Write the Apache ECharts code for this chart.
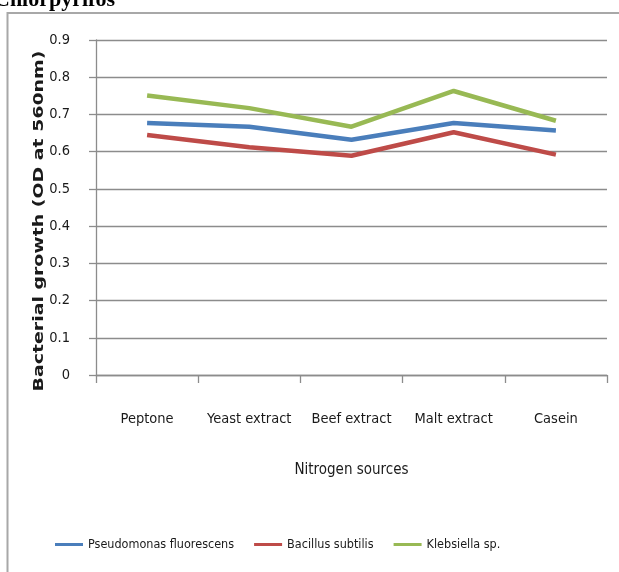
<!DOCTYPE html>
<html>
<head>
<meta charset="utf-8">
<title>Bacterial growth by nitrogen source</title>
<script src="https://cdn.jsdelivr.net/npm/echarts@6/dist/echarts.min.js"></script>
<style>
  html, body { margin: 0; padding: 0; background: #ffffff; }
  #chart { width: 619px; height: 572px; }
</style>
</head>
<body>
<div id="chart"></div>
<script>
// Nitrogen sources tested
const categories = ['Peptone', 'Yeast extract', 'Beef extract', 'Malt extract', 'Casein'];

// Bacterial growth, OD at 560 nm
const pseudomonas = [0.677, 0.667, 0.632, 0.677, 0.657];
const bacillus    = [0.645, 0.612, 0.589, 0.652, 0.592];
const klebsiella  = [0.751, 0.717, 0.667, 0.763, 0.683];

const seriesNames = ['Pseudomonas fluorescens', 'Bacillus subtilis', 'Klebsiella sp.'];
const seriesColors = ['#4a7ebb', '#be4b48', '#98b954'];

const narrow = '"DejaVu Sans Condensed", "Liberation Sans Narrow", "Liberation Sans", sans-serif';
const gridColor = '#8c8c8c';

const chart = echarts.init(document.getElementById('chart'), null, { renderer: 'canvas' });

const dataSets = [pseudomonas, bacillus, klebsiella];

chart.setOption({
  animation: false,
  backgroundColor: '#ffffff',
  grid: { left: 96, right: 12, top: 40, bottom: 197, containLabel: false },
  legend: {
    left: 50,
    top: 533,
    itemWidth: 28,
    itemHeight: 3,
    itemGap: 20,
    icon: 'rect',
    textStyle: { fontFamily: narrow, fontSize: 12.5, color: '#1a1a1a' },
    data: seriesNames
  },
  xAxis: {
    type: 'category',
    data: categories,
    boundaryGap: true,
    name: 'Nitrogen sources',
    nameLocation: 'middle',
    nameGap: 88,
    nameTextStyle: { fontFamily: narrow, fontSize: 15, color: '#1a1a1a' },
    axisLine: { lineStyle: { color: gridColor, width: 1.3 } },
    axisTick: { show: true, alignWithLabel: false, length: 8, lineStyle: { color: gridColor, width: 1.3 } },
    axisLabel: { fontFamily: narrow, fontSize: 14.5, color: '#1a1a1a', margin: 37, interval: 0 },
    splitLine: { show: false }
  },
  yAxis: {
    type: 'value',
    min: 0,
    max: 0.9,
    interval: 0.1,
    axisLine: { show: true, lineStyle: { color: gridColor, width: 1.3 } },
    axisTick: { show: true, length: 7, lineStyle: { color: gridColor, width: 1.3 } },
    axisLabel: {
      fontFamily: narrow, fontSize: 14.5, color: '#1a1a1a', margin: 26,
      formatter: v => (Math.round(v * 10) / 10).toString()
    },
    splitLine: { show: true, lineStyle: { color: gridColor, width: 1.3 } }
  },
  series: dataSets.map((d, i) => ({
    name: seriesNames[i],
    type: 'line',
    data: d,
    symbol: 'none',
    smooth: false,
    color: seriesColors[i],
    lineStyle: { width: 4.5, color: seriesColors[i] }
  })),
  graphic: [
    // outer chart frame, running off the right and bottom edges
    {
      type: 'rect',
      silent: true,
      z: -10,
      shape: { x: 7.5, y: 13, width: 700, height: 700 },
      style: { fill: 'none', stroke: '#a8a8a8', lineWidth: 2 }
    },
    // heading above the frame, clipped by the top edge
    {
      type: 'text',
      silent: true,
      x: -6,
      y: 11,
      style: {
        text: 'Chlorpyrifos',
        font: 'bold 22px "Liberation Serif", "Times New Roman", serif',
        fill: '#000000',
        textAlign: 'left',
        textVerticalAlign: 'bottom'
      }
    },
    // vertical axis title, stretched along its length
    {
      type: 'text',
      silent: true,
      x: 39,
      y: 221,
      rotation: Math.PI / 2,
      scaleX: 1.35,
      style: {
        text: 'Bacterial growth (OD at 560nm)',
        font: 'bold 14px "DejaVu Sans", Verdana, sans-serif',
        fill: '#1a1a1a',
        textAlign: 'center',
        textVerticalAlign: 'middle'
      }
    }
  ]
});
</script>
</body>
</html>
